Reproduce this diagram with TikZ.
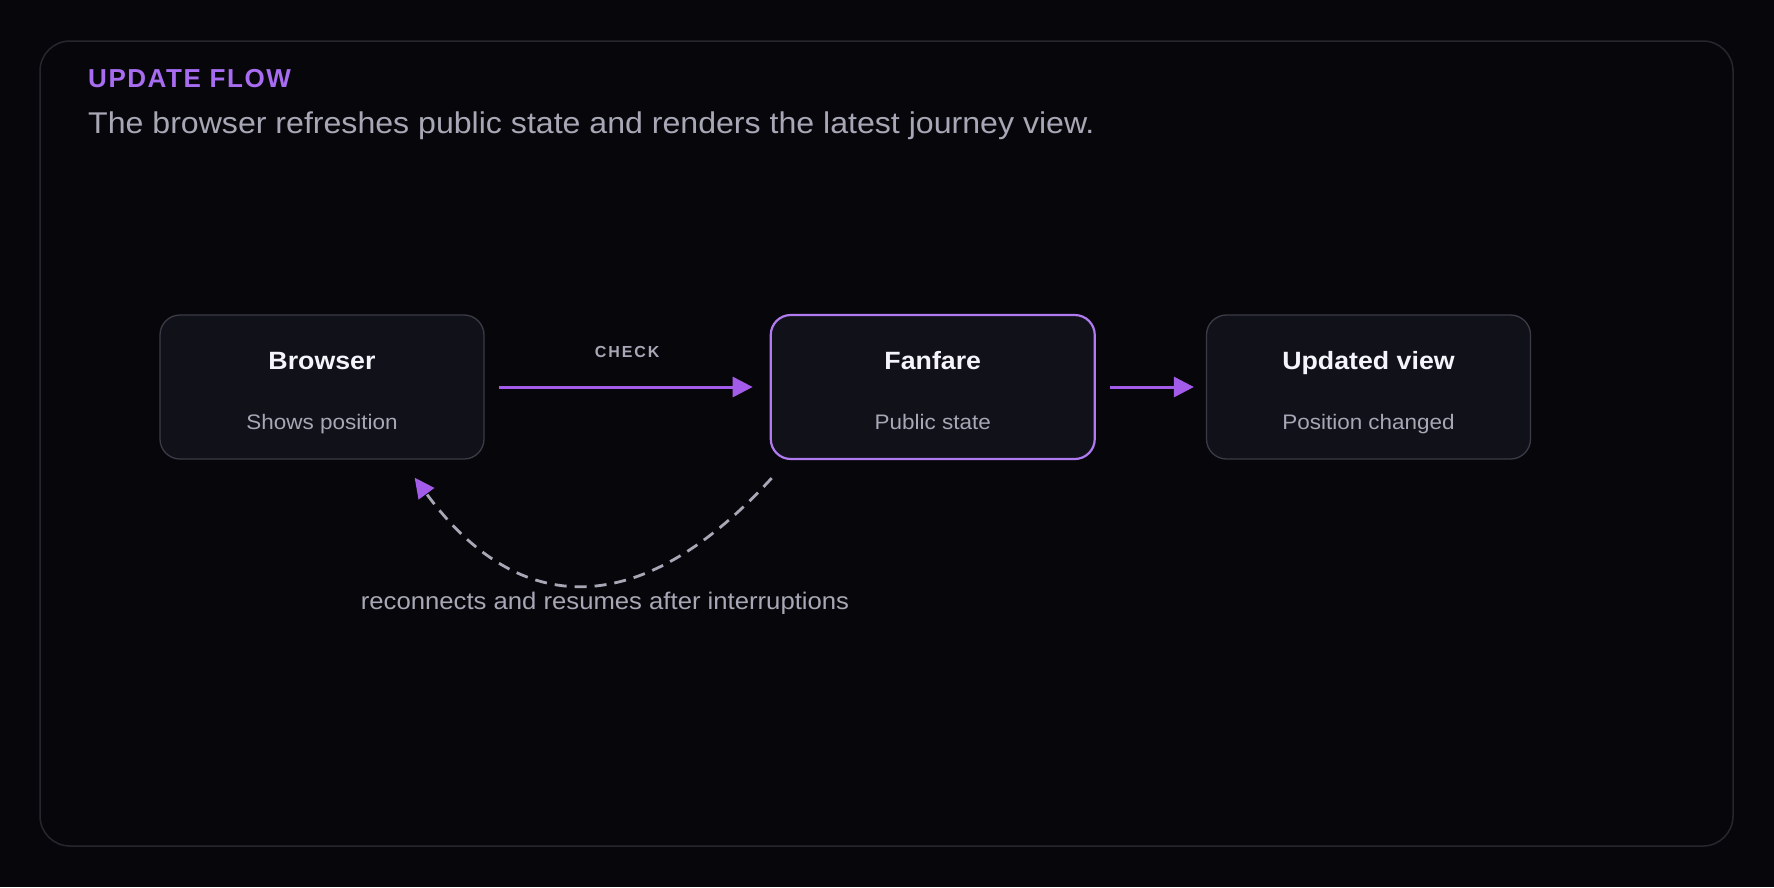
\documentclass[tikz,border=0pt]{standalone}
\usepackage{fontspec}
\setmainfont[FakeStretch=1.07]{Liberation Sans}
\newfontfamily\spacedfont[LetterSpace=6]{Liberation Sans}
\newfontfamily\checkfont[LetterSpace=12]{Liberation Sans}
\usetikzlibrary{positioning, arrows.meta, calc}

\definecolor{bgdark}{HTML}{07070B}
\definecolor{framegray}{HTML}{26262E}
\definecolor{boxfill}{HTML}{11111A}
\definecolor{boxline}{HTML}{3B3B47}
\definecolor{violet}{HTML}{A35BEA}
\definecolor{violetline}{HTML}{B07AF0}
\definecolor{headviolet}{HTML}{A86CF0}
\definecolor{softgray}{HTML}{A7A7B5}
\definecolor{titlewhite}{HTML}{F4F4FA}

\begin{document}
\begin{tikzpicture}[
    x=1pt, y=-1pt,
    arrow/.style={
        -{Triangle[length=20pt, width=20pt]},
        line width=3pt,
        draw=violet,
        fill=violet
    },
    back/.style={
        -{Triangle[length=20pt, width=19pt, color=violet, fill=violet]},
        line width=2.8pt,
        draw=softgray,
        dash pattern=on 12pt off 8pt
    },
    stage/.style={
        rectangle,
        fill=boxfill,
        draw=boxline,
        line width=1.3pt,
        rounded corners=20pt,
        minimum width=324pt,
        minimum height=144pt
    },
    active/.style={
        stage,
        draw=violetline,
        line width=2.2pt
    },
    stagetitle/.style={
        anchor=base,
        text=titlewhite,
        font=\bfseries\fontsize{25}{30}\selectfont
    },
    stagesub/.style={
        anchor=base,
        text=softgray,
        font=\fontsize{21}{26}\selectfont
    },
    flowlabel/.style={
        anchor=base,
        text=softgray,
        font=\checkfont\bfseries\fontsize{16}{20}\selectfont
    }
]

    % Background and frame
    \path[fill=bgdark, use as bounding box] (0,0) rectangle (1774,887);
    \draw[framegray, line width=1.5pt, rounded corners=30pt] (40,41) rectangle (1733,846);

    % Header
    \node[anchor=base west, inner sep=0pt, text=headviolet,
          font=\spacedfont\bfseries\fontsize{26}{30}\selectfont] (head) at (88,87) {UPDATE FLOW};
    \node[anchor=base west, inner sep=0pt, text=softgray,
          font=\fontsize{30}{36}\selectfont] (lead) at (88,133)
          {The browser refreshes public state and renders the latest journey view.};

    % Stages
    \node[stage] (browser) at (322,387) {};
    \node[active, right=285pt of browser] (fanfare) {};
    \node[stage, right=110pt of fanfare] (updated) {};

    \node[stagetitle] (browser-t) at ($(browser.center)+(0,-18)$) {Browser};
    \node[stagesub] (browser-s) at ($(browser.center)+(0,42)$) {Shows position};
    \node[stagetitle] (fanfare-t) at ($(fanfare.center)+(0,-18)$) {Fanfare};
    \node[stagesub] (fanfare-s) at ($(fanfare.center)+(0,42)$) {Public state};
    \node[stagetitle] (updated-t) at ($(updated.center)+(0,-18)$) {Updated view};
    \node[stagesub] (updated-s) at ($(updated.center)+(0,42)$) {Position changed};

    % Forward arrows
    \draw[arrow, shorten <=14pt, shorten >=17pt] (browser) -- (fanfare);
    \draw[arrow, shorten <=14pt, shorten >=12pt] (fanfare) -- (updated);
    \node[flowlabel] (check) at ($(browser.east)!0.5!(fanfare.west)+(0,-30)$) {CHECK};

    % Reconnect loop
    \coordinate (loop1) at ($(fanfare.south west)+(2,18)$);
    \coordinate (loop2) at ($(browser.south east)+(-70,18)$);
    \draw[back] (loop1) .. controls +(-130,142) and +(105,143) .. (loop2);
    \node[anchor=base, text=softgray, font=\fontsize{24}{29}\selectfont] (resume)
          at (605,609) {reconnects and resumes after interruptions};

\end{tikzpicture}
\end{document}
